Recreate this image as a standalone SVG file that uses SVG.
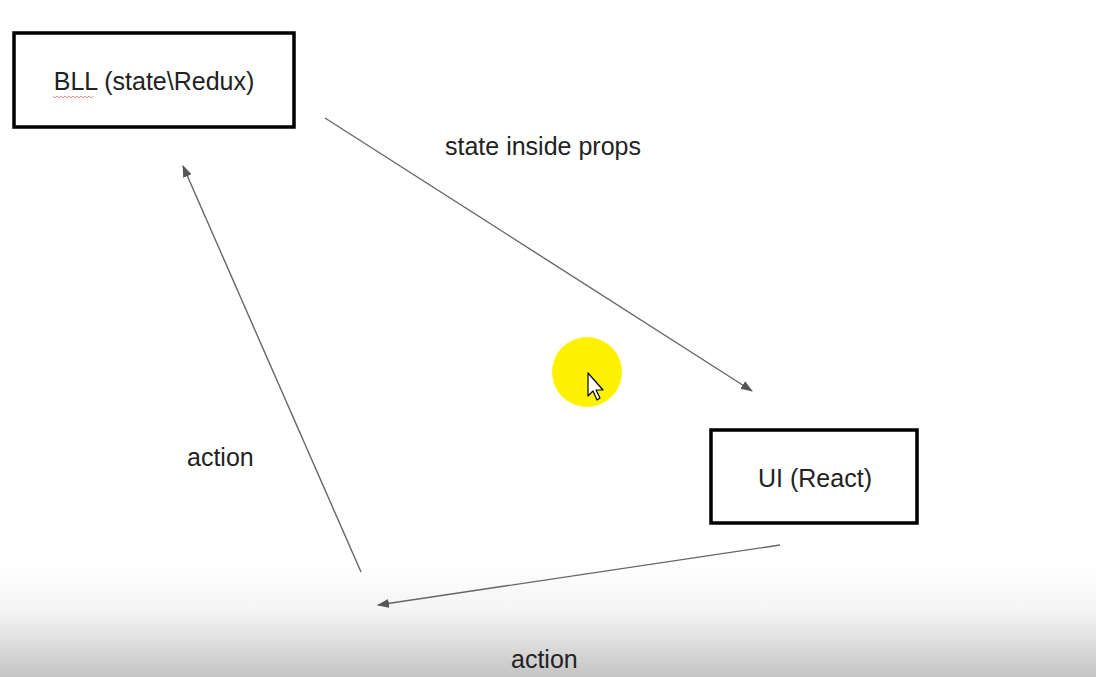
<svg xmlns="http://www.w3.org/2000/svg" width="1096" height="677" viewBox="0 0 1096 677">
<defs>
<linearGradient id="bottom" x1="0" y1="0" x2="0" y2="1">
<stop offset="0" stop-color="#ffffff"/>
<stop offset="0.45" stop-color="#f4f4f4"/>
<stop offset="1" stop-color="#c4c4c4"/>
</linearGradient>
<marker id="ah" viewBox="0 0 12 10" refX="11" refY="5" markerWidth="12" markerHeight="10" markerUnits="userSpaceOnUse" orient="auto">
<path d="M0,0.5 L12,5 L0,9.5 z" fill="#555"/>
</marker>
<style>
.box{fill:#fff;stroke:#000;stroke-width:3.5}
.lbl{font-family:"Liberation Sans",Arial,sans-serif;font-size:25px;fill:#222}
.conn{stroke:#666;stroke-width:1.4;fill:none;marker-end:url(#ah)}
</style>
</defs>
<rect width="1096" height="677" fill="#fff"/>
<rect x="0" y="560" width="1096" height="117" fill="url(#bottom)"/>
<g id="connectors">
<line class="conn" x1="325" y1="118" x2="752" y2="391"/>
<line class="conn" x1="361" y1="572" x2="183" y2="166"/>
<line class="conn" x1="780" y1="545" x2="378" y2="605"/>
</g>
<g id="bll">
<rect class="box" x="14" y="33" width="280" height="94"/>
<text class="lbl" x="154" y="90" text-anchor="middle">BLL (state\Redux)</text>
<path d="M53,96 l2,2 l2,-2 l2,2 l2,-2 l2,2 l2,-2 l2,2 l2,-2 l2,2 l2,-2 l2,2 l2,-2 l2,2 l2,-2 l2,2 l2,-2 l2,2 l2,-2 l2,2 l2,-2" fill="none" stroke="#e07070" stroke-width="0.8"/>
</g>
<g id="ui">
<rect class="box" x="711" y="430" width="206" height="93"/>
<text class="lbl" x="815" y="487" text-anchor="middle">UI (React)</text>
</g>
<g id="labels">
<text class="lbl" x="445" y="155">state inside props</text>
<text class="lbl" x="187" y="466">action</text>
<text class="lbl" x="511" y="668">action</text>
</g>
<g id="cursor">
<circle cx="587" cy="372" r="35" fill="#fff200"/>
<path d="M588,373 L588,396 L593,391 L597,400 L600,398 L596,390 L603,390 Z" fill="#fff" stroke="#000" stroke-width="1.2" stroke-linejoin="round"/>
</g>
</svg>
